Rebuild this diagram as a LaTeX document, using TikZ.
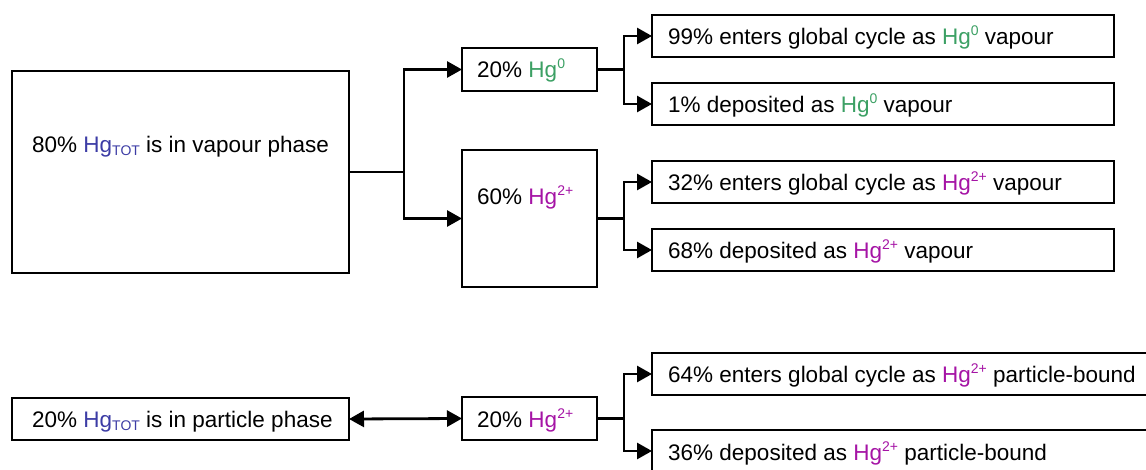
\documentclass[tikz,border=0pt]{standalone}
\usepackage{fontspec}
\setmainfont{Liberation Sans}
\usetikzlibrary{arrows.meta}
\definecolor{hggreen}{RGB}{60,160,100}
\definecolor{hgpurple}{RGB}{165,20,165}
\definecolor{hgblue}{RGB}{60,60,165}
\newcommand{\supr}[1]{\raisebox{9pt}{\fontsize{14}{14}\selectfont #1}}
\newcommand{\subr}[1]{\raisebox{-3pt}{\fontsize{14}{14}\selectfont #1}}
\newcommand{\hgz}{{\color{hggreen}Hg\supr{0}}}
\newcommand{\hgt}{{\color{hgpurple}Hg\supr{2+}}}
\newcommand{\hgtot}{{\color{hgblue}Hg\subr{TOT}}}
\begin{document}
\begin{tikzpicture}[x=1pt,y=-1pt,
  box/.style={draw, line width=1.6pt, inner sep=0pt, outer sep=0pt},
  lbl/.style={font=\fontsize{22.5}{27}\selectfont, inner sep=0pt, anchor=base west},
  conn/.style={line width=2.8pt},
  arr/.style={conn, -{Triangle[length=15pt,width=16pt]}},
  darr/.style={conn, {Triangle[length=15pt,width=16pt]}-{Triangle[length=15pt,width=16pt]}}]
\useasboundingbox (0,0) rectangle (1146,470);
\clip (0,0) rectangle (1146,470);
% boxes
\node[box, minimum width=337pt, minimum height=202pt] (A) at (180.5,172) {};
\node[box, minimum width=135pt, minimum height=43pt] (B) at (529.5,69.5) {};
\node[box, minimum width=135pt, minimum height=137pt] (C) at (529.5,218.5) {};
\node[box, minimum width=462pt, minimum height=42pt] (R1) at (883,36) {};
\node[box, minimum width=462pt, minimum height=42pt] (R2) at (883,104) {};
\node[box, minimum width=462pt, minimum height=42pt] (R3) at (883,182) {};
\node[box, minimum width=462pt, minimum height=42pt] (R4) at (883,250) {};
\node[box, minimum width=337pt, minimum height=42pt] (P) at (180.5,419) {};
\node[box, minimum width=135pt, minimum height=43pt] (D) at (529.5,418.5) {};
\node[box, minimum width=508pt, minimum height=42pt] (R5) at (906,374) {};
\node[box, minimum width=508pt, minimum height=42pt] (R6) at (906,451) {};
% texts
\node[lbl] (tA) at (32,153) {80\% \hgtot{} is in vapour phase};
\node[lbl] (tB) at (477,78) {20\% \hgz};
\node[lbl] (tC) at (477,205) {60\% \hgt};
\node[lbl] (t1) at (668,44.5) {99\% enters global cycle as \hgz{} vapour};
\node[lbl] (t2) at (668,112.5) {1\% deposited as \hgz{} vapour};
\node[lbl] (t3) at (668,190.5) {32\% enters global cycle as \hgt{} vapour};
\node[lbl] (t4) at (668,258.5) {68\% deposited as \hgt{} vapour};
\node[lbl] (tP) at (32,427.5) {20\% \hgtot{} is in particle phase};
\node[lbl] (tD) at (477,427) {20\% \hgt};
\node[lbl] (t5) at (668,382.5) {64\% enters global cycle as \hgt{} particle-bound};
\node[lbl] (t6) at (668,460.5) {36\% deposited as \hgt{} particle-bound};
% junctions
\coordinate (j1) at (404,172);
\coordinate (j2) at (624,69.5);
\coordinate (j3) at (624,218.5);
\coordinate (j4) at (624,418.5);
% connectors
\draw[conn] (A.east) -- (j1);
\draw[arr] (j1) |- (B.west);
\draw[arr] (j1) |- (C.west);
\draw[conn] (B.east) -- (j2);
\draw[arr] (j2) |- (R1.west);
\draw[arr] (j2) |- (R2.west);
\draw[conn] (C.east) -- (j3);
\draw[arr] (j3) |- (R3.west);
\draw[arr] (j3) |- (R4.west);
\draw[darr] (P.east) -- (D.west);
\draw[conn] (D.east) -- (j4);
\draw[arr] (j4) |- (R5.west);
\draw[arr] (j4) |- (R6.west);
\end{tikzpicture}
\end{document}
